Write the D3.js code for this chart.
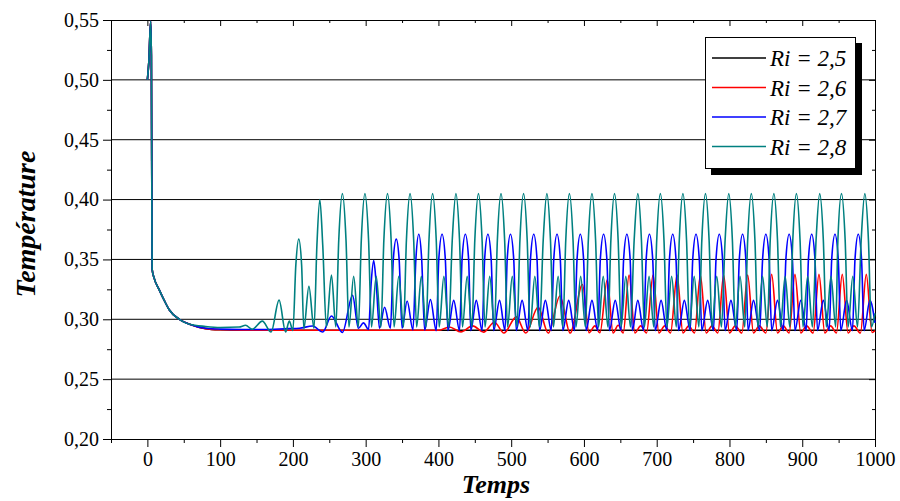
<!DOCTYPE html>
<html>
<head>
<meta charset="utf-8">
<script src="https://cdn.jsdelivr.net/npm/d3@7"></script>
<style>
  body { margin: 0; background: #fff; }
  svg, svg text { font-family: "Liberation Serif", "Times New Roman", serif; }
  .tick line, .domain { stroke: #000; }
</style>
</head>
<body>
<div id="chart"></div>
<script>
// series values [temps, température]
const spike = [[0,0.500],[2,0.515],[4.5,0.549],[5.5,0.52],[6.5,0.342],[9,0.335],[16,0.325],[23,0.316],[30,0.308],[44,0.300],[58,0.2958]];

const ri25 = [[80,0.2922],[100,0.2912],[130,0.2908],[1000,0.2908]];

const ri26 = [[80,0.2922],[100,0.2912],[130,0.2908],[400,0.2908],
  [415,0.2935],[431,0.2895],[447,0.2945],[462,0.2893],[477,0.2975],[490,0.2885],[507,0.302],[520,0.2885],
  [537,0.310],[551,0.2885],[567,0.3195],[581,0.2885],[598,0.329],[607,0.2888],[615,0.2945],[622,0.2888],
  [632,0.333],[640,0.2885],[647,0.295],[654,0.2885],[662,0.337],[670,0.2885],[678,0.2945],[686,0.2885],
  [695,0.337],[703,0.2885],[711,0.2945],[719,0.2885],[728,0.337],[736,0.2885],[744,0.2945],[752,0.2885],
  [760,0.337],[768,0.2885],[776,0.2945],[784,0.2885],[792,0.337],[800,0.2885],[808,0.2945],[817,0.2885],
  [825,0.337],[833,0.2885],[841,0.2945],[850,0.2885],[858,0.3375],[866,0.2885],[874,0.2945],[882,0.2885],
  [890,0.3375],[898,0.2885],[906,0.2945],[915,0.2885],[923,0.3375],[931,0.2885],[939,0.2945],[947,0.2885],
  [955,0.3375],[963,0.2885],[971,0.2945],[980,0.2885],[988,0.3375],[996,0.289],[1000,0.2905]];

const ri27 = [[80,0.2925],[100,0.2918],[130,0.2915],[160,0.2915],[193,0.2922],[209,0.2925],[227,0.2944],
  [241,0.2894],[253,0.3028],[268,0.289],[282,0.320],[290,0.2925],[297,0.297],[304,0.2915],
  [307.5,0.33],[311,0.349],[314.5,0.33],[319,0.2925],[326,0.310],[334,0.2925],
  [338,0.35],[342,0.367],[346,0.35],[350,0.2925],[357,0.3153],[365,0.291],
  [369,0.35],[373,0.371],[377,0.35],[381,0.291],[389,0.3165],[397,0.2905],
  [400.5,0.350],[405,0.371],[409.5,0.350],[413,0.2905],[421,0.3158],[429,0.2905],
  [432.5,0.350],[437,0.371],[441.5,0.350],[444.5,0.2905],[452,0.3158],[460,0.2905],
  [463.5,0.350],[468,0.371],[472.5,0.350],[476,0.2905],[484,0.3158],[491.5,0.2905],
  [494.5,0.350],[499,0.371],[503.5,0.350],[507,0.2905],[515,0.3158],[523,0.2905],
  [526.5,0.350],[531,0.371],[535.5,0.350],[539,0.2905],[547,0.3158],[555,0.2905],
  [558.5,0.350],[563,0.371],[567.5,0.350],[571,0.2905],[579,0.3158],[587,0.2905],
  [590.5,0.350],[595,0.371],[599.5,0.350],[603,0.2905],[611,0.3158],[619,0.2905],
  [622.5,0.350],[627,0.371],[631.5,0.350],[635,0.2905],[643,0.3158],[651,0.2905],
  [654.5,0.350],[659,0.371],[663.5,0.350],[666.5,0.2905],[674,0.3158],[682,0.2905],
  [685.5,0.350],[690,0.371],[694.5,0.350],[698,0.2905],[706,0.3158],[714,0.2905],
  [717.5,0.350],[722,0.371],[726.5,0.350],[730,0.2905],[738,0.3158],[746,0.2905],
  [749.5,0.350],[754,0.371],[758.5,0.350],[762,0.2905],[770,0.3158],[778,0.2905],
  [781.5,0.350],[786,0.371],[790.5,0.350],[794,0.2905],[802,0.3158],[810,0.2905],
  [813.5,0.350],[818,0.371],[822.5,0.350],[825.5,0.2905],[833,0.3158],[841.5,0.2905],
  [845.5,0.350],[850,0.371],[854.5,0.350],[858,0.2905],[866,0.3158],[874,0.2905],
  [877.5,0.350],[882,0.371],[886.5,0.350],[890,0.2905],[898,0.3158],[905.5,0.2905],
  [908.5,0.350],[913,0.371],[917.5,0.350],[921,0.2905],[929,0.3158],[937,0.2905],
  [940.5,0.350],[945,0.371],[949.5,0.350],[953,0.2905],[961,0.3158],[969,0.2905],
  [972.5,0.350],[977,0.371],[981.5,0.350],[985,0.2905],[993,0.3158],[1000,0.297]];

const ri28 = [[80,0.294],[100,0.2932],[126,0.2935],[135,0.295],[144,0.2917],[158,0.2985],[170,0.2894],
  [181,0.316],[190,0.2894],[195,0.2986],[200,0.2906],[204,0.345],[208,0.367],[212,0.345],[215,0.292],
  [222,0.3275],[229,0.2925],[233,0.362],[237,0.400],[241,0.362],[246,0.2935],[253,0.337],[259,0.2935],
  [263,0.366],[268,0.405],[273,0.366],[277,0.2935],[283.5,0.336],[290,0.2935],
  [294,0.366],[299,0.405],[304,0.366],[308,0.2935],[314.5,0.336],[321,0.2935],
  [325,0.366],[330,0.405],[335,0.366],[339,0.2935],[345.5,0.336],[352,0.2935],
  [356,0.366],[361,0.405],[366,0.366],[370,0.2935],[376.5,0.336],[383,0.2935],
  [387,0.366],[392,0.405],[397,0.366],[401,0.2935],[407.5,0.336],[414,0.2935],
  [419,0.366],[424,0.405],[429,0.366],[433,0.2935],[439.5,0.336],[446,0.2935],
  [450,0.366],[455,0.405],[460,0.366],[464,0.2935],[470.5,0.336],[477,0.2935],
  [481,0.366],[486,0.405],[491,0.366],[495,0.2935],[501.5,0.336],[508,0.2935],
  [512,0.366],[517,0.405],[522,0.366],[526,0.2935],[532.5,0.336],[539,0.2935],
  [544,0.366],[549,0.405],[554,0.366],[558,0.2935],[564.5,0.336],[571,0.2935],
  [575,0.366],[580,0.405],[585,0.366],[589,0.2935],[595.5,0.336],[602,0.2935],
  [606,0.366],[611,0.405],[616,0.366],[620,0.2935],[626.5,0.336],[633,0.2935],
  [637,0.366],[642,0.405],[647,0.366],[651,0.2935],[657.5,0.336],[664,0.2935],
  [669,0.366],[674,0.405],[679,0.366],[683,0.2935],[689.5,0.336],[696,0.2935],
  [700,0.366],[705,0.405],[710,0.366],[714,0.2935],[720.5,0.336],[727,0.2935],
  [731,0.366],[736,0.405],[741,0.366],[745,0.2935],[751.5,0.336],[758,0.2935],
  [762,0.366],[767,0.405],[772,0.366],[776,0.2935],[782.5,0.336],[789,0.2935],
  [794,0.366],[799,0.405],[804,0.366],[808,0.2935],[814.5,0.336],[821,0.2935],
  [825,0.366],[830,0.405],[835,0.366],[839,0.2935],[845.5,0.336],[852,0.2935],
  [856,0.366],[861,0.405],[866,0.366],[870,0.2935],[876.5,0.336],[883,0.2935],
  [887,0.366],[892,0.405],[897,0.366],[901,0.2935],[907.5,0.336],[914,0.2935],
  [919,0.366],[924,0.405],[929,0.366],[933,0.2935],[939.5,0.336],[946,0.2935],
  [949,0.366],[954,0.405],[959,0.366],[963,0.2935],[969.5,0.336],[976,0.2935],
  [981,0.366],[986,0.405],[991,0.366],[995,0.2935],[1000,0.305]];

const seriesNames = ["Ri = 2,5", "Ri = 2,6", "Ri = 2,7", "Ri = 2,8"];
const seriesColors = ["#000000", "#ff0000", "#0000ff", "#008080"];
const seriesData = [ri25, ri26, ri27, ri28];

const xTicks = [0, 100, 200, 300, 400, 500, 600, 700, 800, 900, 1000];
const xMinor = [-50, 50, 150, 250, 350, 450, 550, 650, 750, 850, 950];
const yTicks = [0.20, 0.25, 0.30, 0.35, 0.40, 0.45, 0.50, 0.55];
const yMinor = [0.225, 0.275, 0.325, 0.375, 0.425, 0.475, 0.525];

(function chart() {
  const width = 900,
    height = 501,
    margin = { top: 20, right: 25, bottom: 62, left: 111 };

  const serif = "'Liberation Serif', 'Times New Roman', serif";

  const svg = d3.select("#chart")
    .append("svg")
    .attr("width", width)
    .attr("height", height)
    .attr("font-family", serif);

  const x = d3.scaleLinear([-50, 1000], [margin.left, width - margin.right]);
  const y = d3.scaleLinear([0.20, 0.55], [height - margin.bottom, margin.top]);

  const frFormat = d3.formatLocale({ decimal: ",", thousands: " ", grouping: [3], currency: ["", ""] }).format(".2f");

  // horizontal grid
  svg.append("g")
    .selectAll("line")
    .data(yTicks.slice(1, -1))
    .join("line")
    .attr("x1", x(-50))
    .attr("x2", x(1000))
    .attr("y1", d => y(d))
    .attr("y2", d => y(d))
    .attr("stroke", "#000")
    .attr("stroke-width", 1);

  // axes (the four frame sides)
  const axes = svg.append("g");

  axes.append("g")
    .attr("transform", `translate(0,${y(0.20)})`)
    .call(d3.axisBottom(x).tickValues(xTicks).tickSize(8).tickSizeOuter(0).tickPadding(5).tickFormat(d3.format("d")));
  axes.append("g")
    .attr("transform", `translate(0,${y(0.20)})`)
    .call(d3.axisBottom(x).tickValues(xMinor).tickSize(4).tickSizeOuter(0).tickFormat(""))
    .select(".domain").remove();

  axes.append("g")
    .attr("transform", `translate(${x(-50)},0)`)
    .call(d3.axisLeft(y).tickValues(yTicks).tickSize(8).tickSizeOuter(0).tickPadding(4).tickFormat(frFormat));
  axes.append("g")
    .attr("transform", `translate(${x(-50)},0)`)
    .call(d3.axisLeft(y).tickValues(yMinor).tickSize(4).tickSizeOuter(0).tickFormat(""))
    .select(".domain").remove();

  axes.append("g")
    .attr("transform", `translate(0,${y(0.55)})`)
    .call(d3.axisTop(x).tickValues(xTicks).tickSize(-6).tickSizeOuter(0).tickFormat(""));
  axes.append("g")
    .attr("transform", `translate(0,${y(0.55)})`)
    .call(d3.axisTop(x).tickValues(xMinor).tickSize(-3).tickSizeOuter(0).tickFormat(""))
    .select(".domain").remove();

  axes.append("g")
    .attr("transform", `translate(${x(1000)},0)`)
    .call(d3.axisRight(y).tickValues(yTicks).tickSize(-6).tickSizeOuter(0).tickFormat(""));
  axes.append("g")
    .attr("transform", `translate(${x(1000)},0)`)
    .call(d3.axisRight(y).tickValues(yMinor).tickSize(-3).tickSizeOuter(0).tickFormat(""))
    .select(".domain").remove();

  axes.selectAll("g").attr("font-family", serif).attr("font-size", 20);
  axes.selectAll(".tick text")
    .attr("font-family", serif)
    .attr("font-size", 20)
    .style("font-family", serif)
    .attr("fill", "#000");

  // curves
  const line = d3.line()
    .x(d => x(d[0]))
    .y(d => y(d[1]))
    .curve(d3.curveMonotoneX);

  svg.append("g")
    .selectAll("path")
    .data(seriesData)
    .join("path")
    .attr("d", d => line(spike.concat(d)))
    .attr("fill", "none")
    .attr("stroke", (d, i) => seriesColors[i])
    .attr("stroke-width", 1.6)
    .attr("stroke-linejoin", "round");

  // axis titles
  svg.append("text")
    .attr("x", 496)
    .attr("y", 493)
    .attr("text-anchor", "middle")
    .attr("font-size", 26)
    .attr("font-weight", "bold")
    .attr("font-style", "italic")
    .text("Temps");

  svg.append("text")
    .attr("transform", "translate(35,224) rotate(-90)")
    .attr("text-anchor", "middle")
    .attr("font-size", 28)
    .attr("font-weight", "bold")
    .attr("font-style", "italic")
    .text("Température");

  // legend
  const lg = svg.append("g");
  lg.append("rect")
    .attr("x", 711).attr("y", 43)
    .attr("width", 151).attr("height", 132)
    .attr("fill", "#000");
  lg.append("rect")
    .attr("x", 705.5).attr("y", 37.5)
    .attr("width", 150).attr("height", 131)
    .attr("fill", "#fff")
    .attr("stroke", "#000");

  const item = lg.selectAll(".legend-item")
    .data(seriesNames)
    .join("g")
    .attr("class", "legend-item")
    .attr("transform", (d, i) => `translate(0,${58 + i * 29.5})`);

  item.append("line")
    .attr("x1", 712).attr("x2", 766)
    .attr("stroke", (d, i) => seriesColors[i])
    .attr("stroke-width", 1.6);

  item.append("text")
    .attr("x", 770)
    .attr("y", 8)
    .attr("font-size", 23)
    .attr("font-style", "italic")
    .text(d => d);
})();
</script>
</body>
</html>
